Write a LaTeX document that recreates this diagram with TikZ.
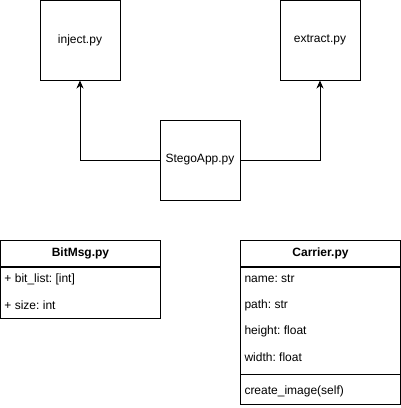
\documentclass[tikz,border=0pt]{standalone}
\usepackage{fontspec}
\setmainfont{Liberation Sans}
\usetikzlibrary{arrows.meta}
\frenchspacing

\begin{document}
\begin{tikzpicture}[
    x=1pt, y=-1pt,
    line width=1pt,
    every node/.style = {font=\fontsize{12}{14}\selectfont},
    file/.style = {draw, rectangle, minimum width=80pt, minimum height=80pt, inner sep=0pt},
    head/.style = {draw, rectangle, anchor=north west, minimum width=160pt, minimum height=26pt,
        inner sep=0pt, font=\fontsize{12}{14}\selectfont\bfseries},
    row/.style = {anchor=west, inner xsep=4pt, inner ysep=0pt},
    link/.style = {-{Stealth[length=8pt, width=7pt, inset=2.5pt]}}
  ]
    \useasboundingbox (0,0) rectangle (401,408);

    % scripts
    \node[file] (inject) at (80,40) {inject.py};
    \node[file] (extract) at (320,40) {extract.py};
    \node[file] (stego) at (200,160) {StegoApp.py};

    \draw[link] (stego.west) -| (inject.south);
    \draw[link] (stego.east) -| (extract.south);

    % BitMsg class
    \node[head] (bm-head) at (0,240) {BitMsg.py};
    \node[row] (bm-list) at (0,279) {+ bit\_list: [int]};
    \node[row] (bm-size) at (0,305) {+ size: int};
    \coordinate (bm-end) at (160,318);
    \draw (bm-head.south west) rectangle (bm-end);

    % Carrier class
    \node[head] (car-head) at (240,240) {Carrier.py};
    \node[row] (car-name) at (240,279) {name: str};
    \node[row] (car-path) at (240,305) {path: str};
    \node[row] (car-height) at (240,331) {height: float};
    \node[row] (car-width) at (240,357) {width: float};
    \node[row] (car-meth) at (240,391) {create\_image(self)};
    \coordinate (car-end) at (400,404);
    \coordinate (car-sep) at (240,374);
    \draw (car-head.south west) rectangle (car-end);
    \draw (car-sep) -- (car-sep -| car-end);
\end{tikzpicture}
\end{document}
